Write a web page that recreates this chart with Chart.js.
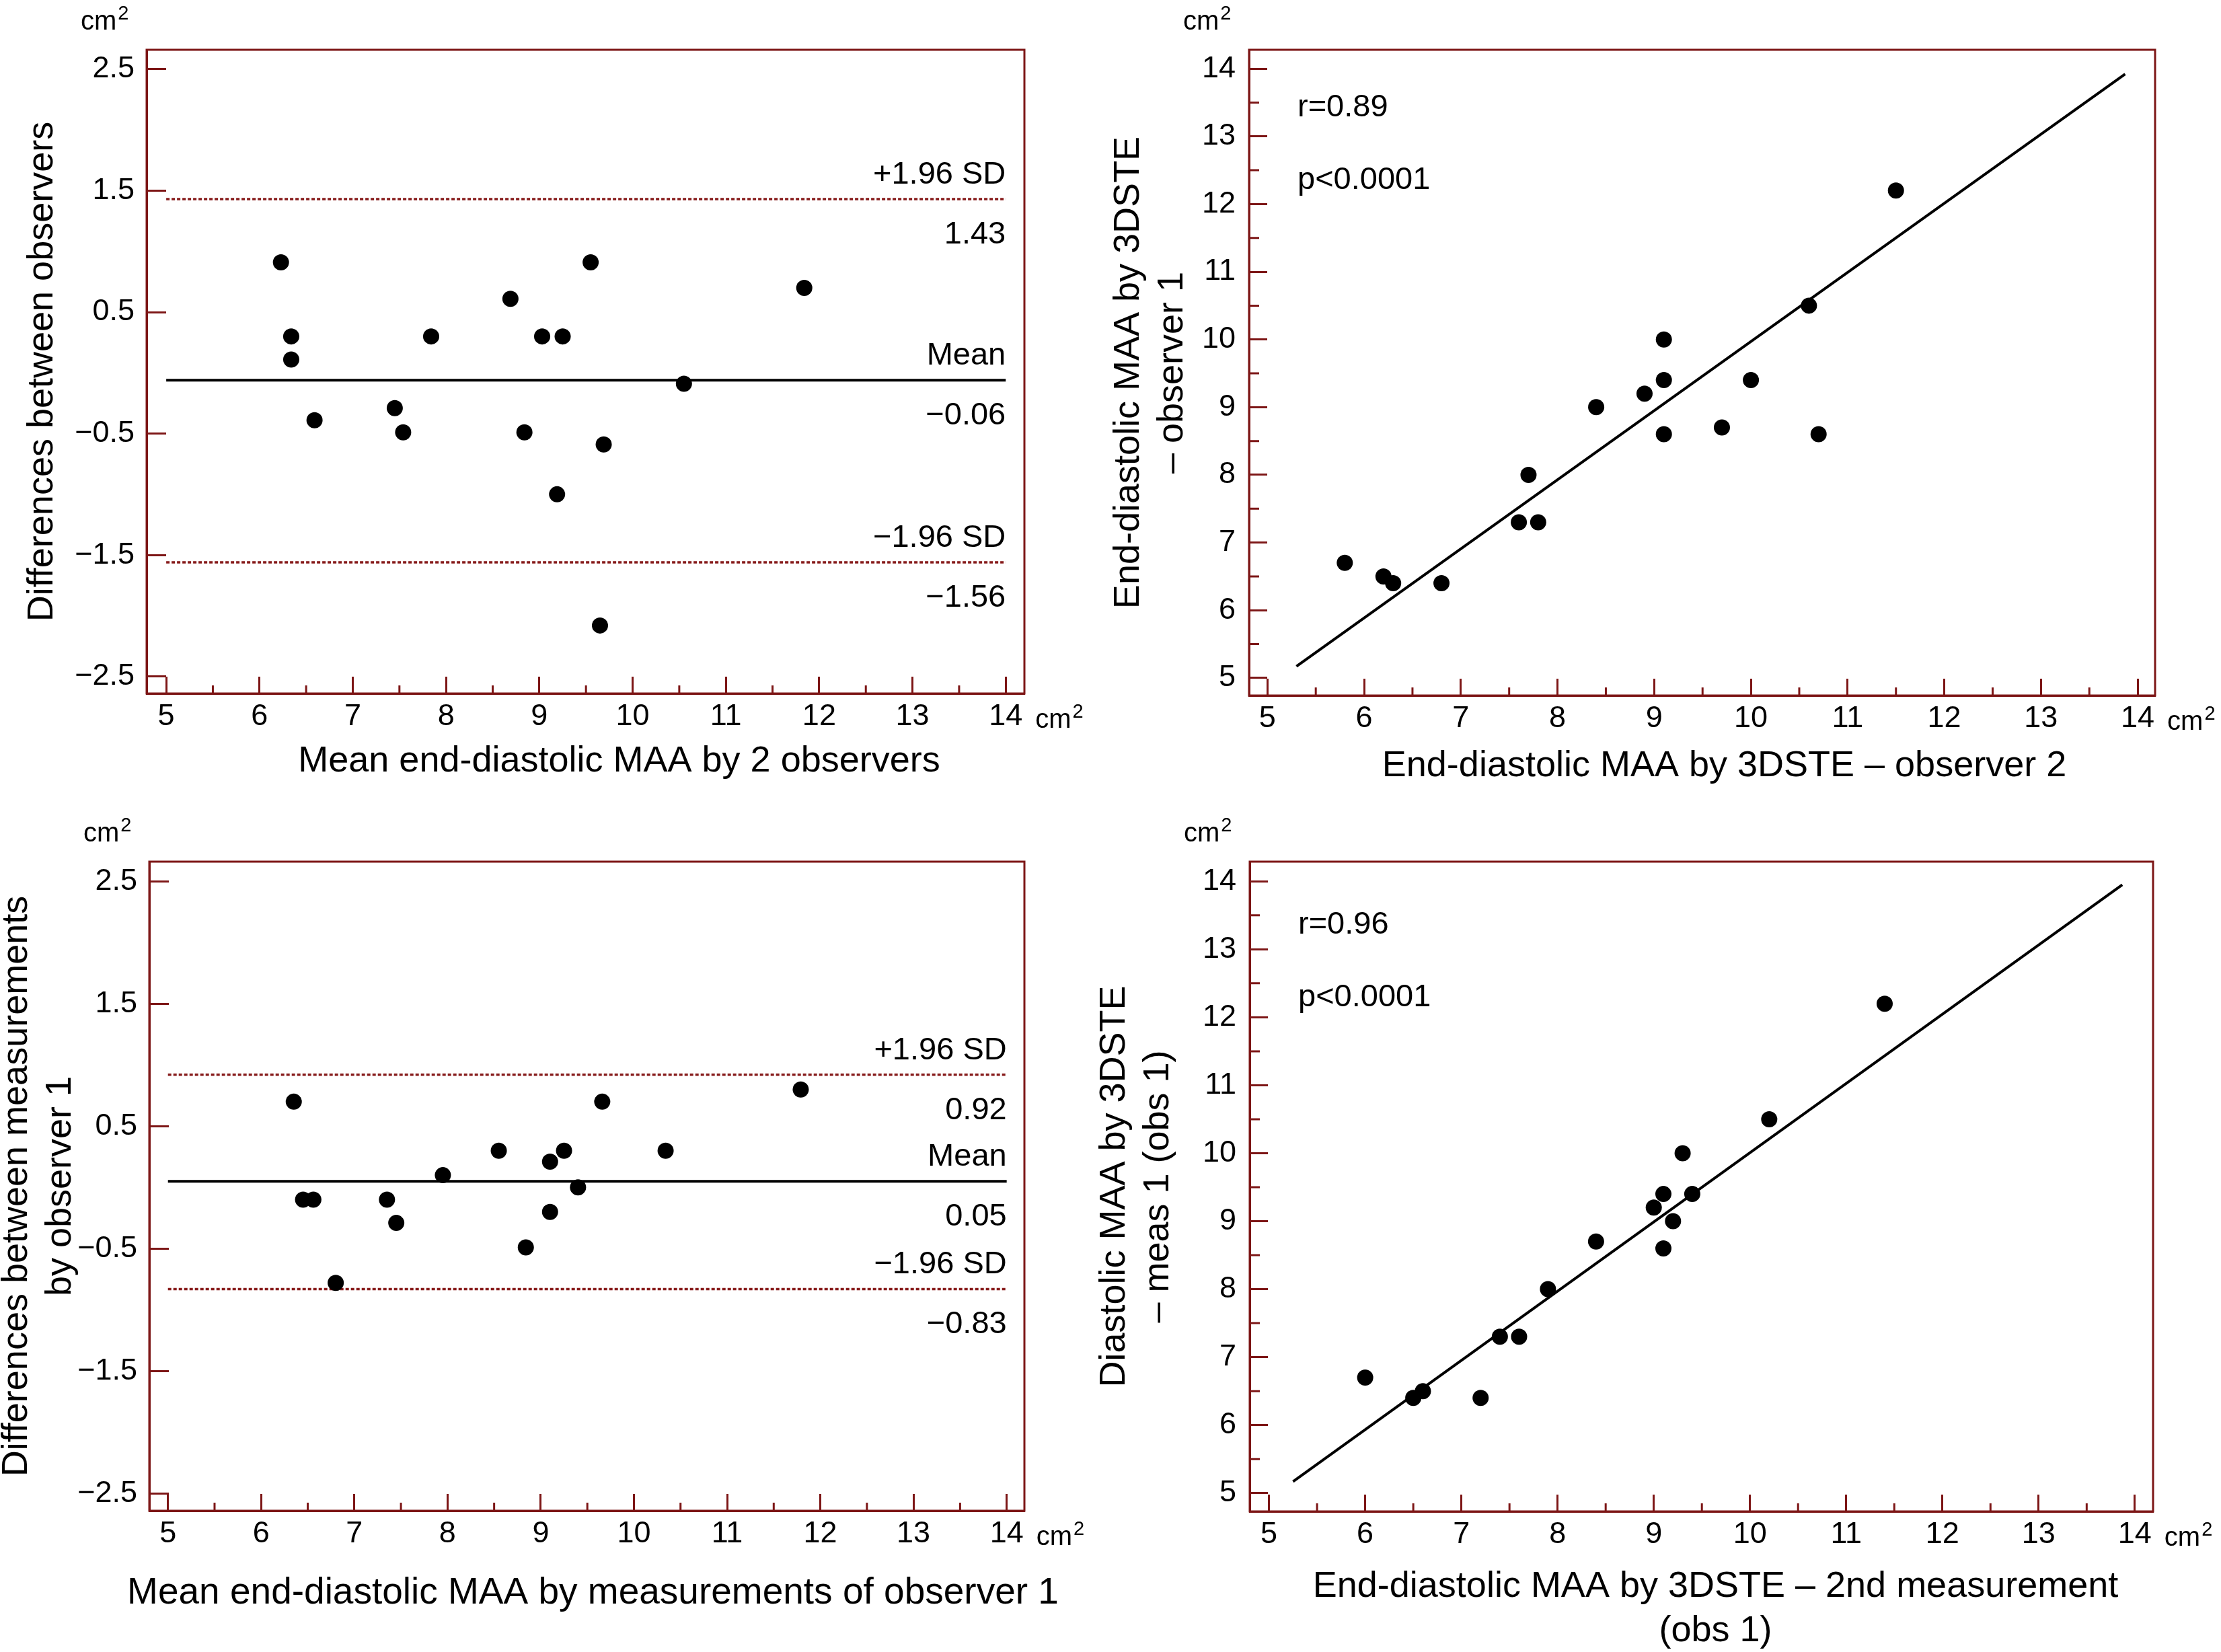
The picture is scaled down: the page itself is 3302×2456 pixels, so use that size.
<!DOCTYPE html>
<html>
<head>
<meta charset="utf-8">
<title>MAA reproducibility</title>
<script src="https://cdn.jsdelivr.net/npm/chart.js@4.4.1/dist/chart.umd.min.js"></script>
<style>
  html, body { margin: 0; padding: 0; background: #fff; }
  #page { position: relative; width: 3302px; height: 2456px; overflow: hidden; background: #fff; }
  #page canvas { position: absolute; }
</style>
</head>
<body>
<div id="page">
  <canvas id="panelA" width="1700" height="1228" style="left:0px;top:0px"></canvas>
  <canvas id="panelB" width="1702" height="1228" style="left:1600px;top:0px"></canvas>
  <canvas id="panelC" width="1700" height="1256" style="left:0px;top:1200px"></canvas>
  <canvas id="panelD" width="1702" height="1256" style="left:1600px;top:1200px"></canvas>
</div>
<script>
// ---- tick values shared by the four panels ----
const xTicks = [5, 6, 7, 8, 9, 10, 11, 12, 13, 14];
const xMinorTicks = [5.5, 6.5, 7.5, 8.5, 9.5, 10.5, 11.5, 12.5, 13.5];
const diffTicks = [-2.5, -1.5, -0.5, 0.5, 1.5, 2.5];
const diffTickLabels = ['\u22122.5', '\u22121.5', '\u22120.5', '0.5', '1.5', '2.5'];
const areaTicks = [5, 6, 7, 8, 9, 10, 11, 12, 13, 14];
const areaMinorTicks = [5.5, 6.5, 7.5, 8.5, 9.5, 10.5, 11.5, 12.5, 13.5];

// ---- panel A: Bland-Altman, observer 1 vs observer 2 ----
const meanA = [6.23, 6.34, 6.34, 6.59, 7.45, 7.54, 7.84, 8.69, 8.84, 9.03, 9.25, 9.19, 9.55, 9.69, 9.65, 10.55, 11.84];
const diffA = [0.91, 0.30, 0.11, -0.39, -0.29, -0.49, 0.30, 0.61, -0.49, 0.30, 0.30, -1.00, 0.91, -0.59, -2.08, -0.09, 0.70];
const limitsA = [1.43, -0.06, -1.56];
const limitTextA = ['1.43', '\u22120.06', '\u22121.56'];

// ---- panel B: correlation, observer 2 (x) vs observer 1 (y) ----
const obs2B = [5.8, 6.2, 6.3, 6.8, 7.6, 7.8, 7.7, 8.4, 8.9, 9.1, 9.1, 9.1, 9.7, 10.0, 10.7, 10.6, 11.5];
const obs1B = [6.7, 6.5, 6.4, 6.4, 7.3, 7.3, 8.0, 9.0, 9.2, 9.4, 10.0, 8.6, 8.7, 9.4, 8.6, 10.5, 12.2];
const fitXB = [5.3, 13.87];
const fitYB = [5.17, 13.92];
const statsB = ['r=0.89', 'p<0.0001'];

// ---- panel C: Bland-Altman, two measurements of observer 1 ----
const meanC = [6.35, 6.45, 6.56, 6.80, 7.35, 7.45, 7.95, 8.55, 8.84, 9.10, 9.10, 9.25, 9.40, 9.66, 10.34, 11.79];
const diffC = [0.70, -0.10, -0.10, -0.78, -0.10, -0.29, 0.10, 0.30, -0.49, 0.21, -0.20, 0.30, 0.00, 0.70, 0.30, 0.80];
const limitsC = [0.92, 0.05, -0.83];
const limitTextC = ['0.92', '0.05', '\u22120.83'];

// ---- panel D: correlation, 2nd measurement (x) vs 1st measurement (y) ----
const meas2D = [6.0, 6.5, 6.6, 7.2, 7.4, 7.6, 7.9, 8.4, 9.0, 9.1, 9.1, 9.2, 9.3, 9.4, 10.2, 11.4];
const meas1D = [6.7, 6.4, 6.5, 6.4, 7.3, 7.3, 8.0, 8.7, 9.2, 9.4, 8.6, 9.0, 10.0, 9.4, 10.5, 12.2];
const fitXD = [5.25, 13.87];
const fitYD = [5.17, 13.95];
const statsD = ['r=0.96', 'p<0.0001'];

const limitNames = ['+1.96 SD', 'Mean', '\u22121.96 SD'];
const limitSpan = [5, 14];

const FRAME = '#7d1616';
const DOTTED = '#861a1a';
const FONT = '"Liberation Sans", Arial, Helvetica, sans-serif';
Chart.defaults.font.family = FONT;
Chart.defaults.color = '#000';

// "cm" with a raised 2
function unit(ctx, x, y) {
  ctx.font = '40px ' + FONT;
  ctx.fillText('cm', x, y);
  const w = ctx.measureText('cm').width;
  ctx.font = '29px ' + FONT;
  ctx.fillText('2', x + w + 2, y - 15);
}

// frame round the plot area, minor ticks, x title, unit labels and annotations
const panelDecor = {
  id: 'panelDecor',
  afterDraw(chart, args, o) {
    const { ctx, chartArea: a, scales } = chart;
    ctx.save();
    ctx.strokeStyle = FRAME;
    ctx.lineWidth = 3;
    ctx.strokeRect(a.left, a.top, a.right - a.left, a.bottom - a.top);
    ctx.beginPath();
    o.xMinor.forEach(v => {
      const px = scales.x.getPixelForValue(v);
      ctx.moveTo(px, a.bottom);
      ctx.lineTo(px, a.bottom - 12);
    });
    (o.yMinor || []).forEach(v => {
      const py = scales.y.getPixelForValue(v);
      ctx.moveTo(a.left, py);
      ctx.lineTo(a.left + 15, py);
    });
    ctx.stroke();

    ctx.fillStyle = '#000';
    ctx.textBaseline = 'alphabetic';
    ctx.textAlign = 'left';
    unit(ctx, a.left - 98, a.top - 30);
    const last = scales.x.getPixelForValue(o.xMajor[o.xMajor.length - 1]);
    unit(ctx, last + 44, a.bottom + 51);

    // x axis title, centred a little right of the plot like the original
    ctx.textAlign = 'center';
    ctx.textBaseline = 'middle';
    ctx.font = o.xTitleSize + 'px ' + FONT;
    const cx = (a.left + a.right) / 2 + o.xTitleDx;
    o.xTitle.forEach((line, i) => ctx.fillText(line, cx, a.bottom + o.xTitleY + i * 66));

    ctx.textBaseline = 'alphabetic';
    ctx.font = '47px ' + FONT;
    if (o.limits) {
      ctx.textAlign = 'right';
      const xr = scales.x.getPixelForValue(limitSpan[1]);
      o.limits.forEach((v, i) => {
        const py = scales.y.getPixelForValue(v);
        ctx.fillText(limitNames[i], xr, py - 23);
        ctx.fillText(o.limitText[i], xr, py + 66);
      });
    }
    if (o.stats) {
      ctx.textAlign = 'left';
      o.stats.forEach((s, i) => ctx.fillText(s, a.left + 72, a.top + o.statsY[i]));
    }
    ctx.restore();
  }
};

function axis(cfg) {
  return {
    type: 'linear',
    position: cfg.position,
    min: cfg.min,
    max: cfg.max,
    afterBuildTicks: s => { s.ticks = cfg.ticks.map(v => ({ value: v })); },
    afterFit: s => {
      if (cfg.position === 'bottom') s.height = cfg.size; else s.width = cfg.size;
    },
    grid: {
      drawOnChartArea: false,
      drawTicks: true,
      tickLength: cfg.tickLength,
      tickWidth: 3,
      tickColor: FRAME
    },
    border: { display: true, color: FRAME, width: 3 },
    ticks: {
      padding: cfg.tickPad,
      color: '#000',
      font: { size: 45 },
      autoSkip: false,
      maxRotation: 0,
      callback: (v, i) => cfg.labels[i]
    },
    title: {
      display: !!cfg.title,
      text: cfg.title || '',
      color: '#000',
      font: { size: 54 },
      padding: { top: cfg.titlePad || 0, bottom: 0 }
    }
  };
}

function points(xs, ys) {
  return {
    type: 'scatter',
    data: xs.map((x, i) => ({ x: x, y: ys[i] })),
    pointRadius: 12,
    pointBackgroundColor: '#000',
    pointBorderWidth: 0,
    showLine: false
  };
}

function hline(value, dotted) {
  return {
    type: 'line',
    data: limitSpan.map(x => ({ x: x, y: value })),
    borderColor: dotted ? DOTTED : '#000',
    borderWidth: dotted ? 3.5 : 4,
    borderDash: dotted ? [5, 3] : [],
    pointRadius: 0,
    fill: false
  };
}

function fitLine(xs, ys) {
  return {
    type: 'line',
    data: xs.map((x, i) => ({ x: x, y: ys[i] })),
    borderColor: '#000',
    borderWidth: 4,
    pointRadius: 0,
    fill: false
  };
}

function panel(id, p) {
  new Chart(document.getElementById(id), {
    type: 'scatter',
    data: { datasets: p.datasets },
    options: {
      responsive: false,
      devicePixelRatio: 1,
      animation: false,
      events: [],
      layout: { autoPadding: false, padding: { top: p.top, right: p.right, left: 0, bottom: 0 } },
      plugins: {
        legend: { display: false },
        tooltip: { enabled: false },
        panelDecor: p.decor
      },
      scales: {
        x: axis(Object.assign({ position: 'bottom', ticks: xTicks, labels: xTicks.map(String), tickLength: -25, tickPad: 33 }, p.x)),
        y: axis(Object.assign({ position: 'left', tickLength: -29, tickPad: 47 }, p.y))
      }
    },
    plugins: [panelDecor]
  });
}

panel('panelA', {
  top: 67, right: 177,
  datasets: [points(meanA, diffA), hline(limitsA[0], true), hline(limitsA[1], false), hline(limitsA[2], true)],
  x: { min: 4.79, max: 14.2, size: 197 },
  y: { min: -2.64, max: 2.66, size: 218, ticks: diffTicks, labels: diffTickLabels, title: 'Differences between observers', titlePad: 31 },
  decor: { xMajor: xTicks, xMinor: xMinorTicks, limits: limitsA, limitText: limitTextA,
           xTitle: ['Mean end-diastolic MAA by 2 observers'], xTitleSize: 54, xTitleDx: 50, xTitleY: 101 }
});

panel('panelB', {
  top: 67, right: 98,
  datasets: [points(obs2B, obs1B), fitLine(fitXB, fitYB)],
  x: { min: 4.81, max: 14.18, size: 194 },
  y: { min: 4.74, max: 14.28, size: 257, ticks: areaTicks, labels: areaTicks.map(String), tickLength: -27,
       title: ['End-diastolic MAA by 3DSTE', '\u2013 observer 1'], titlePad: 46 },
  decor: { xMajor: xTicks, xMinor: xMinorTicks, yMinor: areaMinorTicks, stats: statsB, statsY: [99, 207],
           xTitle: ['End-diastolic MAA by 3DSTE \u2013 observer 2'], xTitleSize: 54, xTitleDx: 33, xTitleY: 105 }
});

panel('panelC', {
  top: 81, right: 177,
  datasets: [points(meanC, diffC), hline(limitsC[0], true), hline(limitsC[1], false), hline(limitsC[2], true)],
  x: { min: 4.80, max: 14.19, size: 210 },
  y: { min: -2.64, max: 2.66, size: 222, ticks: diffTicks, labels: diffTickLabels,
       title: ['Differences between measurements', 'by observer 1'], titlePad: -7 },
  decor: { xMajor: xTicks, xMinor: xMinorTicks, limits: limitsC, limitText: limitTextC,
           xTitle: ['Mean end-diastolic MAA by measurements of observer 1'], xTitleSize: 55, xTitleDx: 9, xTitleY: 123 }
});

panel('panelD', {
  top: 81, right: 101,
  datasets: [points(meas2D, meas1D), fitLine(fitXD, fitYD)],
  x: { min: 4.80, max: 14.19, size: 209 },
  y: { min: 4.73, max: 14.29, size: 258, ticks: areaTicks, labels: areaTicks.map(String), tickLength: -27,
       title: ['Diastolic MAA by 3DSTE', '\u2013 meas 1 (obs 1)'], titlePad: 25 },
  decor: { xMajor: xTicks, xMinor: xMinorTicks, yMinor: areaMinorTicks, stats: statsD, statsY: [107, 215],
           xTitle: ['End-diastolic MAA by 3DSTE \u2013 2nd measurement', '(obs 1)'], xTitleSize: 54, xTitleDx: 21, xTitleY: 112 }
});
</script>
</body>
</html>
